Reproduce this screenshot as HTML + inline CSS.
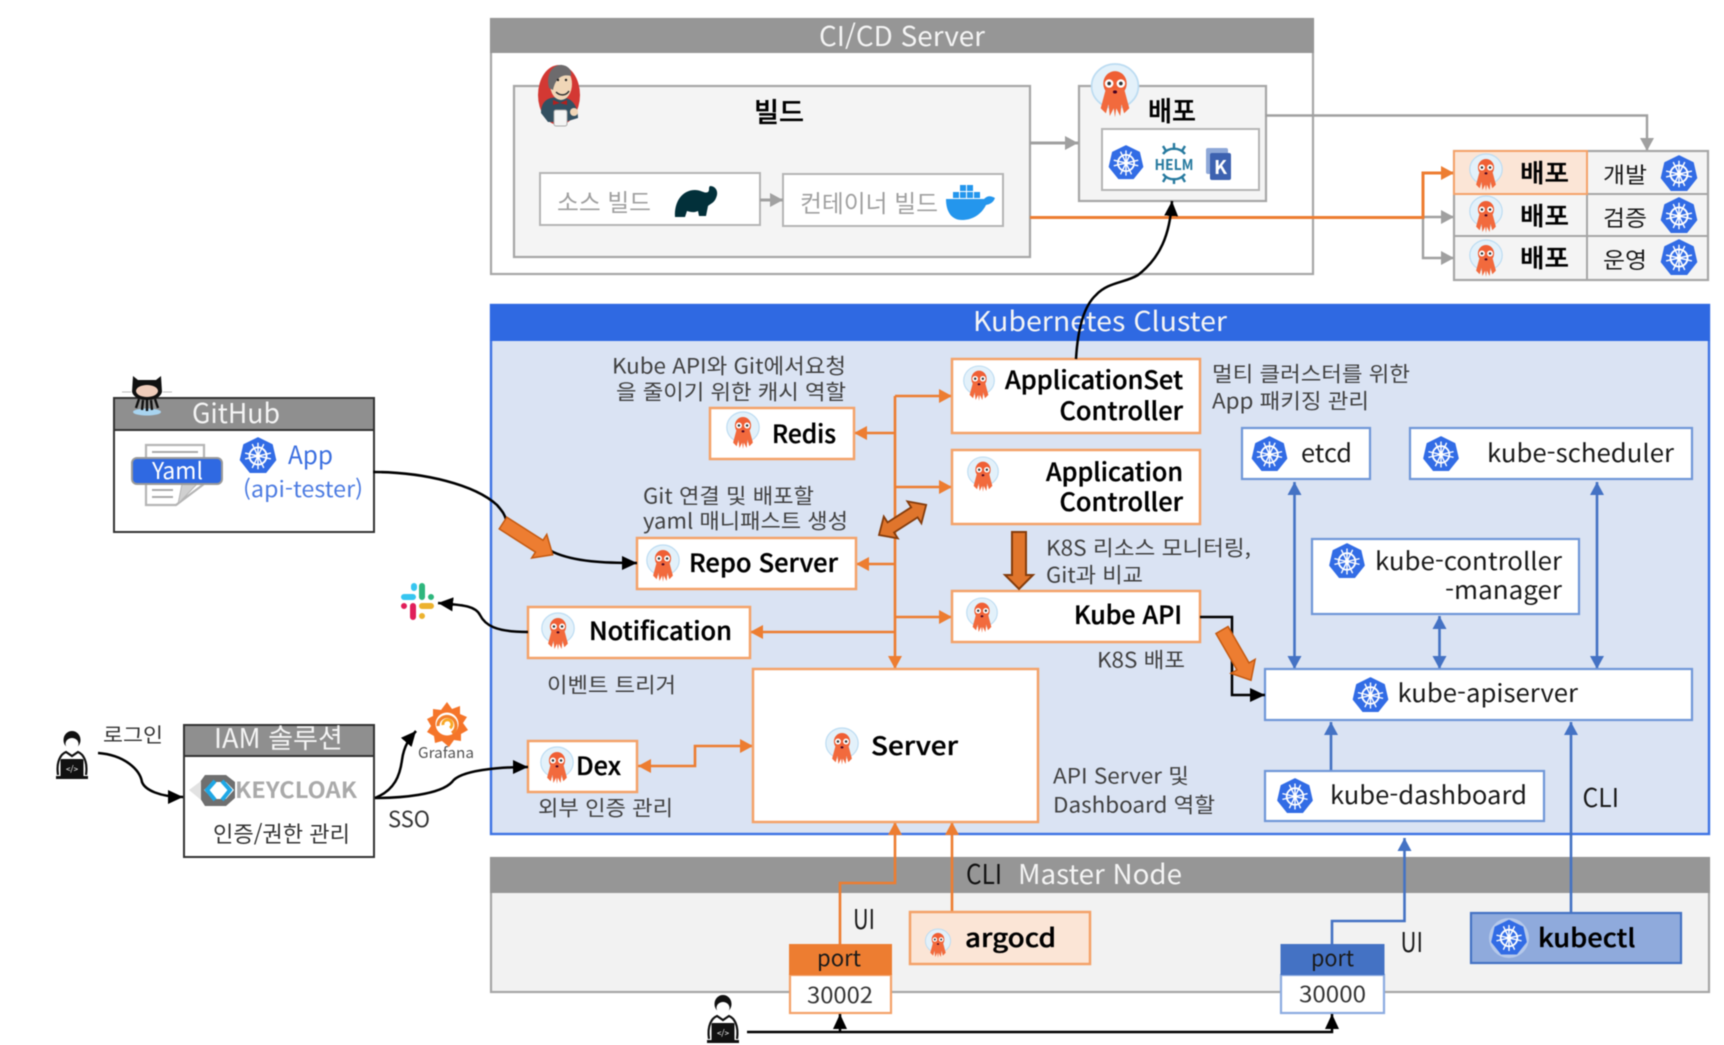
<!DOCTYPE html>
<html lang="ko"><head><meta charset="utf-8"><title>ArgoCD Architecture</title>
<style>
html,body{margin:0;padding:0;background:#fff;width:1724px;height:1045px;overflow:hidden}
svg{display:block;filter:blur(.5px)}
text{font-family:"Noto Sans CJK KR","Liberation Sans",sans-serif}
.h{font-size:27px;fill:#f4f4f4;transform:translateY(1px)}
.b{font-size:25px;font-weight:500;fill:#000;transform:translateY(1px);stroke:#000;stroke-width:.35px}
.m{font-size:24.500px;fill:#1a1a1a}
.d{font-size:21px;fill:#404040;transform:translateY(.5px)}
.g{font-size:24px;fill:#a0a0a0}
.box{fill:#fff;stroke:#f4a269;stroke-width:2.5}
.bb{fill:#fff;stroke:#6f97d8;stroke-width:2.2}
.gr{fill:#f4f4f4;stroke:#a6a6a6;stroke-width:2.2}
.o{fill:none;stroke:#ed7d31;stroke-width:2.6}
.u{fill:none;stroke:#4472c4;stroke-width:2.6}
.y{fill:none;stroke:#a0a0a0;stroke-width:2.4}
.n{fill:none;stroke:#000;stroke-width:2.5}
</style></head><body>
<svg width="1724" height="1045" viewBox="0 0 1724 1045" xmlns="http://www.w3.org/2000/svg">
<defs>
<marker id="mo" markerUnits="userSpaceOnUse" markerWidth="16" markerHeight="16" refX="13" refY="7" orient="auto-start-reverse"><path d="M0,0L13,7L0,14Z" fill="#ed7d31"/></marker>
<marker id="mu" markerUnits="userSpaceOnUse" markerWidth="16" markerHeight="16" refX="13" refY="7" orient="auto-start-reverse"><path d="M0,0L13,7L0,14Z" fill="#4472c4"/></marker>
<marker id="my" markerUnits="userSpaceOnUse" markerWidth="16" markerHeight="16" refX="13" refY="7" orient="auto-start-reverse"><path d="M0,0L13,7L0,14Z" fill="#a0a0a0"/></marker>
<marker id="mn" markerUnits="userSpaceOnUse" markerWidth="18" markerHeight="16" refX="15" refY="7" orient="auto-start-reverse"><path d="M0,0L15,7L0,14Z" fill="#000"/></marker>
<symbol id="k8s" viewBox="-20 -20 40 40" overflow="visible">
<path d="M0,-19 L14.8,-11.8 L18.5,4.2 L8.2,17.1 L-8.2,17.1 L-18.5,4.2 L-14.8,-11.8Z" fill="#326ce5" stroke="#326ce5" stroke-width="1.5" stroke-linejoin="round"/>
<circle r="9" fill="none" stroke="#fff" stroke-width="2"/>
<path d="M0,-14V14M-13.6,-3.1L13.6,3.1M-13.6,3.1L13.6,-3.1M-6.1,-12.6L6.1,12.6M6.1,-12.6L-6.1,12.6" stroke="#fff" stroke-width="1.500"/>
<circle r="2.6" fill="#fff"/>
</symbol>
<symbol id="argo" viewBox="-20 -20 40 40" overflow="visible">
<ellipse cy="-3" rx="18" ry="17" fill="#e3f1fa" stroke="#bcdcf2" stroke-width="1.300"/>
<ellipse cy="-5" rx="9" ry="9.5" fill="#ef5f35"/>
<path d="M-7,-1L-11,14L-7,18L-5,11L-4,20L-1,14L0,21L1,14L4,20L5,11L7,18L11,14L7,-1Z" fill="#f26a3d"/>
<circle cx="-4.500" cy="-5" r="3.300" fill="#fff"/><circle cx="4.500" cy="-5" r="3.300" fill="#fff"/>
<circle cx="-4.500" cy="-5" r="1.400" fill="#333"/><circle cx="4.500" cy="-5" r="1.400" fill="#333"/>
<ellipse cy="1.500" rx="1.600" ry="1.200" fill="#402"/>
</symbol>
<symbol id="person" viewBox="0 0 40 50" overflow="visible">
<ellipse cx="20" cy="9" rx="8.500" ry="9" fill="#111"/>
<ellipse cx="20" cy="13" rx="6.500" ry="6" fill="#fff"/>
<path d="M6,44C4,30 9,23 14,21L20,25L26,21C31,23 36,30 34,44" fill="#fff" stroke="#111" stroke-width="2.200"/>
<rect x="8.500" y="28" width="23" height="18" rx="1" fill="#111"/>
<rect x="4" y="45" width="32" height="3" fill="#111"/>
<text x="20" y="41" text-anchor="middle" style="font-size:8px;fill:#fff">&lt;/&gt;</text>
</symbol>
</defs>

<!-- CI/CD -->
<rect x="491" y="19" width="822" height="255" fill="#fff" stroke="#a6a6a6" stroke-width="2.2"/>
<rect x="490" y="18" width="824" height="35" fill="#969696"/>
<text class="h" x="819" y="45" textLength="166" lengthAdjust="spacingAndGlyphs">CI/CD Server</text>
<rect class="gr" x="514" y="86" width="516" height="171"/>
<rect class="gr" x="1079" y="86" width="187" height="115"/>
<rect x="540" y="173" width="220" height="52" fill="#fff" stroke="#b5b5b5" stroke-width="2"/>
<rect x="783" y="174" width="220" height="52" fill="#fff" stroke="#b5b5b5" stroke-width="2"/>
<rect x="1102" y="129" width="157" height="61" fill="#fff" stroke="#b5b5b5" stroke-width="2"/>
<text class="b" x="754" y="121" textLength="50" lengthAdjust="spacingAndGlyphs" style="font-size:27px">빌드</text>
<text class="b" x="1148" y="120" textLength="48" lengthAdjust="spacingAndGlyphs" style="font-size:27px">배포</text>
<text class="g" x="557" y="211" textLength="94" lengthAdjust="spacingAndGlyphs">소스 빌드</text>
<text class="g" x="800" y="212" textLength="138" lengthAdjust="spacingAndGlyphs">컨테이너 빌드</text>
<!-- jenkins -->
<g>
<ellipse cx="559" cy="95" rx="21" ry="30" fill="#d33833"/>
<path d="M541,113C541,100 550,96 560,98C570,96 578,104 578,118L565,122L548,122Z" fill="#335061"/>
<ellipse cx="561" cy="84" rx="11" ry="16" fill="#f0d6b7"/>
<path d="M549,88C545,72 555,64 562,65C570,66 572,72 571,76C564,74 556,76 553,90Z" fill="#6d6b6d"/>
<path d="M556,92C560,96 566,96 569,91" fill="none" stroke="#333" stroke-width="1.500"/>
<circle cx="558" cy="80" r="1.200" fill="#222"/><circle cx="566" cy="80" r="1.200" fill="#222"/>
<rect x="554" y="110" width="13" height="16" rx="2" fill="#f4f4f4" stroke="#aaa"/>
<path d="M553,100L560,103L567,100L567,105L560,103L553,105Z" fill="#b1201e"/>
<circle cx="574" cy="112" r="4" fill="#f0d6b7"/>
</g>
<!-- gradle -->
<path d="M675,217C674,202 682,190 695,190C701,190 705,194 708,192C710,190 708,188 710,186C716,186 719,192 716,198C714,203 710,204 708,206L706,216H699L698,211C694,213 690,212 687,211L685,217Z" fill="#02303a"/>
<!-- docker -->
<g fill="#2496ed">
<path d="M946,199H984C988,195 991,196 995,198C993,203 990,204 986,205C981,215 972,220 962,220C951,220 946,211 946,199Z"/>
<rect x="953" y="192" width="6" height="6"/><rect x="960" y="192" width="6" height="6"/><rect x="967" y="192" width="6" height="6"/>
<rect x="960" y="185" width="6" height="6"/><rect x="967" y="185" width="6" height="6"/><rect x="974" y="192" width="6" height="6"/>
</g>
<use href="#argo" x="1089" y="62" width="52" height="56"/>
<use href="#k8s" x="1108" y="145" width="36" height="36"/>
<!-- helm -->
<g fill="none" stroke="#277a9f" stroke-width="2.400">
<path d="M1163,154A14,14 0 0 1 1185,154M1163,174A14,14 0 0 0 1185,174"/>
<path d="M1174,143V150M1174,178V184M1163,146L1166,151M1185,146L1182,151M1163,182L1166,177M1185,182L1182,177"/>
</g>
<text x="1174" y="170" text-anchor="middle" textLength="39" lengthAdjust="spacingAndGlyphs" style="font-size:15px;font-weight:700;fill:#277a9f">HELM</text>
<!-- kustomize -->
<rect x="1206" y="148" width="22" height="26" rx="2" fill="#8ea8d8"/>
<rect x="1210" y="153" width="21" height="27" rx="2" fill="#3d62b0"/>
<text x="1220.500" y="174" text-anchor="middle" style="font-size:19px;font-weight:700;fill:#fff">K</text>

<!-- Kubernetes cluster -->
<rect x="491" y="305" width="1218" height="529" fill="#dae3f3" stroke="#3d73e3" stroke-width="2.4"/>
<rect x="490" y="304" width="1220" height="37" fill="#2f69e2"/>
<text class="h" x="973" y="330" textLength="254" lengthAdjust="spacingAndGlyphs">Kubernetes Cluster</text>

<!-- Master node -->
<rect x="491" y="858" width="1218" height="134" fill="#f2f2f2" stroke="#a6a6a6" stroke-width="2.2"/>
<rect x="490" y="857" width="1220" height="36" fill="#969696"/>
<text class="h" x="966" y="883" textLength="36" lengthAdjust="spacingAndGlyphs" style="fill:#111">CLI</text>
<text class="h" x="1018" y="883" textLength="164" lengthAdjust="spacingAndGlyphs">Master Node</text>

<!-- Orange connectors -->
<path class="o" d="M895,396V669" marker-end="url(#mo)"/>
<path class="o" d="M895,396H952" marker-end="url(#mo)"/>
<path class="o" d="M895,433H854" marker-end="url(#mo)"/>
<path class="o" d="M895,487H952" marker-end="url(#mo)"/>
<path class="o" d="M895,564H856" marker-end="url(#mo)"/>
<path class="o" d="M895,617H952" marker-end="url(#mo)"/>
<path class="o" d="M895,632H750" marker-end="url(#mo)"/>
<path class="o" d="M638,766H695V746H753" marker-start="url(#mo)" marker-end="url(#mo)"/>
<path class="o" d="M840,944V883H895V822" marker-end="url(#mo)"/>
<path class="o" d="M952,912V822" marker-end="url(#mo)"/>

<!-- Blue connectors -->
<path class="u" d="M1294.500,482V669" marker-start="url(#mu)" marker-end="url(#mu)"/>
<path class="u" d="M1439.500,616V669" marker-start="url(#mu)" marker-end="url(#mu)"/>
<path class="u" d="M1597,482V669" marker-start="url(#mu)" marker-end="url(#mu)"/>
<path class="u" d="M1331,771V722" marker-end="url(#mu)"/>
<path class="u" d="M1571,913V722" marker-end="url(#mu)"/>
<path class="u" d="M1332,944V921H1404.500V838" marker-end="url(#mu)"/>

<!-- Gray connectors -->
<path class="y" style="stroke-width:3" d="M1030,143H1078" marker-end="url(#my)"/>
<path class="y" style="stroke-width:3" d="M760,200H783" marker-end="url(#my)"/>
<path class="y" d="M1265,115.500H1647V151" marker-end="url(#my)"/>
<path class="y" d="M1423,217H1454" marker-end="url(#my)"/>
<path class="y" d="M1423,217V258H1454" marker-end="url(#my)"/>
<path class="o" style="stroke-width:3" d="M1030,217.500H1423V173H1454" marker-end="url(#mo)"/>

<!-- Argo boxes -->
<rect class="box" x="710" y="408" width="144" height="51"/>
<rect class="box" x="952" y="359" width="248" height="74"/>
<rect class="box" x="952" y="450" width="248" height="74"/>
<rect class="box" x="637" y="538" width="219" height="51"/>
<rect class="box" x="528" y="607" width="222" height="51"/>
<rect class="box" x="952" y="591" width="248" height="51"/>
<rect class="box" x="753" y="669" width="285" height="153"/>
<rect class="box" x="528" y="741" width="109" height="51"/>
<rect x="910" y="912" width="180" height="52" fill="#fbe5d6" stroke="#f4a269" stroke-width="2.5"/>

<use href="#argo" x="725" y="411" width="36" height="38"/>
<use href="#argo" x="962" y="365" width="34" height="36"/>
<use href="#argo" x="966" y="456" width="34" height="36"/>
<use href="#argo" x="645" y="544" width="36" height="38"/>
<use href="#argo" x="965" y="597" width="34" height="36"/>
<use href="#argo" x="540" y="612" width="36" height="38"/>
<use href="#argo" x="824" y="727" width="36" height="38"/>
<use href="#argo" x="539" y="746" width="36" height="38"/>
<use href="#argo" x="924" y="928" width="28" height="30"/>

<text class="b" x="772" y="442" textLength="64" lengthAdjust="spacingAndGlyphs">Redis</text>
<text class="b" x="1005" y="388" textLength="178" lengthAdjust="spacingAndGlyphs">ApplicationSet</text>
<text class="b" x="1059.500" y="419" textLength="123.500" lengthAdjust="spacingAndGlyphs">Controller</text>
<text class="b" x="1046" y="480" textLength="137" lengthAdjust="spacingAndGlyphs">Application</text>
<text class="b" x="1059.500" y="510" textLength="123.500" lengthAdjust="spacingAndGlyphs">Controller</text>
<text class="b" x="689" y="571" textLength="149" lengthAdjust="spacingAndGlyphs">Repo Server</text>
<text class="b" x="1074" y="623" textLength="108" lengthAdjust="spacingAndGlyphs">Kube API</text>
<text class="b" x="589" y="639" textLength="143" lengthAdjust="spacingAndGlyphs">Notification</text>
<text class="b" x="871" y="754" textLength="87" lengthAdjust="spacingAndGlyphs">Server</text>
<text class="b" x="576" y="774" textLength="45" lengthAdjust="spacingAndGlyphs">Dex</text>
<text class="b" x="965" y="946" textLength="91" lengthAdjust="spacingAndGlyphs">argocd</text>

<text class="d" x="612" y="373" textLength="234" lengthAdjust="spacingAndGlyphs">Kube API와 Git에서요청</text>
<text class="d" x="616" y="399" textLength="230" lengthAdjust="spacingAndGlyphs">을 줄이기 위한 캐시 역할</text>
<text class="d" x="643" y="503" textLength="171" lengthAdjust="spacingAndGlyphs">Git 연결 및 배포할</text>
<text class="d" x="643" y="528" textLength="205" lengthAdjust="spacingAndGlyphs">yaml 매니패스트 생성</text>
<text class="d" x="547" y="692" textLength="129" lengthAdjust="spacingAndGlyphs">이벤트 트리거</text>
<text class="d" x="538" y="815" textLength="135" lengthAdjust="spacingAndGlyphs">외부 인증 관리</text>
<text class="d" x="1053" y="783" textLength="136" lengthAdjust="spacingAndGlyphs">API Server 및</text>
<text class="d" x="1053" y="812" textLength="162" lengthAdjust="spacingAndGlyphs">Dashboard 역할</text>
<text class="d" x="1097" y="667" textLength="88" lengthAdjust="spacingAndGlyphs">K8S 배포</text>
<text class="d" x="1046" y="555" textLength="205" lengthAdjust="spacingAndGlyphs">K8S 리소스 모니터링,</text>
<text class="d" x="1046" y="582" textLength="97" lengthAdjust="spacingAndGlyphs">Git과 비교</text>
<text class="d" x="1212" y="381" textLength="198" lengthAdjust="spacingAndGlyphs">멀티 클러스터를 위한</text>
<text class="d" x="1212" y="408" textLength="157" lengthAdjust="spacingAndGlyphs">App 패키징 관리</text>

<!-- Blue boxes -->
<rect class="bb" x="1242" y="428" width="128" height="51"/>
<rect class="bb" x="1410" y="428" width="282" height="51"/>
<rect class="bb" x="1312" y="539" width="267" height="75"/>
<rect class="bb" x="1265" y="669" width="427" height="51"/>
<rect class="bb" x="1265" y="771" width="279" height="50"/>
<rect x="1471" y="913" width="210" height="50" fill="#8faadc" stroke="#4472c4" stroke-width="2.2"/>
<use href="#k8s" x="1251" y="436" width="37" height="37"/>
<use href="#k8s" x="1422.500" y="436" width="37" height="37"/>
<use href="#k8s" x="1328.500" y="543" width="37" height="37"/>
<use href="#k8s" x="1352" y="677" width="37" height="37"/>
<use href="#k8s" x="1276.500" y="778" width="37" height="37"/>
<circle cx="1509" cy="938" r="20" fill="#c6d6ef" opacity=".7"/>
<use href="#k8s" x="1490.500" y="919.500" width="37" height="37"/>
<text class="m" x="1301" y="462" textLength="51" lengthAdjust="spacingAndGlyphs">etcd</text>
<text class="m" x="1487" y="462" textLength="187" lengthAdjust="spacingAndGlyphs">kube-scheduler</text>
<text class="m" x="1375" y="570" textLength="187" lengthAdjust="spacingAndGlyphs">kube-controller</text>
<text class="m" x="1445" y="599" textLength="117" lengthAdjust="spacingAndGlyphs">-manager</text>
<text class="m" x="1397.500" y="702" textLength="180.500" lengthAdjust="spacingAndGlyphs">kube-apiserver</text>
<text class="m" x="1330" y="804" textLength="197" lengthAdjust="spacingAndGlyphs">kube-dashboard</text>
<text class="m" x="1582.500" y="807" textLength="36.500" lengthAdjust="spacingAndGlyphs" style="font-size:26px">CLI</text>
<text class="b" x="1538" y="946" textLength="97.500" lengthAdjust="spacingAndGlyphs">kubectl</text>
<text class="m" x="1400.500" y="952" textLength="22.500" lengthAdjust="spacingAndGlyphs" style="font-size:27px">UI</text>
<text class="m" x="853" y="929" textLength="22" lengthAdjust="spacingAndGlyphs" style="font-size:27px">UI</text>

<!-- Ports -->
<rect x="790" y="975" width="101" height="38" fill="#fff" stroke="#f4a269" stroke-width="2.200"/>
<rect x="789" y="944" width="103" height="31" fill="#ed7d31"/>
<text class="m" x="817" y="966" textLength="44" lengthAdjust="spacingAndGlyphs" style="font-size:22px">port</text>
<text class="m" x="807" y="1003" textLength="66" lengthAdjust="spacingAndGlyphs" style="font-size:22px;fill:#333">30002</text>
<rect x="1281" y="975" width="103" height="38" fill="#fff" stroke="#8cabe0" stroke-width="2.200"/>
<rect x="1280.500" y="944" width="104" height="31" fill="#4472c4"/>
<text class="m" x="1311" y="966" textLength="43" lengthAdjust="spacingAndGlyphs" style="font-size:22px">port</text>
<text class="m" x="1299" y="1002" textLength="67" lengthAdjust="spacingAndGlyphs" style="font-size:22px;fill:#333">30000</text>

<!-- Deployment table -->
<rect class="gr" x="1454" y="151" width="254" height="129"/>
<path d="M1454,194H1708M1454,236H1708M1587,151V280" stroke="#a6a6a6" stroke-width="2" fill="none"/>
<rect x="1454" y="151" width="133" height="43" fill="#fbe5d6" stroke="#f4a269" stroke-width="2"/>
<use href="#argo" x="1466" y="154" width="40" height="36"/>
<use href="#argo" x="1466" y="196" width="40" height="36"/>
<use href="#argo" x="1466" y="240" width="40" height="36"/>
<text class="b" x="1520" y="181" textLength="49" lengthAdjust="spacingAndGlyphs">배포</text>
<text class="b" x="1520" y="224" textLength="49" lengthAdjust="spacingAndGlyphs">배포</text>
<text class="b" x="1520" y="266" textLength="49" lengthAdjust="spacingAndGlyphs">배포</text>
<text class="m" x="1603" y="183" textLength="44" lengthAdjust="spacingAndGlyphs" style="font-size:22px">개발</text>
<text class="m" x="1603" y="226" textLength="44" lengthAdjust="spacingAndGlyphs" style="font-size:22px">검증</text>
<text class="m" x="1603" y="268" textLength="44" lengthAdjust="spacingAndGlyphs" style="font-size:22px">운영</text>
<use href="#k8s" x="1660" y="155" width="38" height="38"/>
<use href="#k8s" x="1660" y="197" width="38" height="38"/>
<use href="#k8s" x="1660" y="239" width="38" height="38"/>

<!-- GitHub -->
<rect x="114" y="398" width="260" height="134" fill="#fff" stroke="#333" stroke-width="2"/>
<rect x="114" y="398" width="260" height="32" fill="#8f8f8f" stroke="#333" stroke-width="2"/>
<text class="h" x="192" y="422" textLength="88" lengthAdjust="spacingAndGlyphs">GitHub</text>
<g>
<ellipse cx="147" cy="412" rx="14" ry="3.500" fill="#a8d4f0"/>
<path d="M133,376L138,380H156L161,376L162,392C160,398 154,400 147,400C140,400 134,398 132,392Z" fill="#111"/>
<ellipse cx="147" cy="391" rx="11" ry="6" fill="#f0cdbb"/>
<path d="M139,399L136,408M143,400L142,410M147,400V411M151,400L152,410M155,399L158,408" stroke="#111" stroke-width="2.400" fill="none"/>
<path d="M122,392H131M163,392H172" stroke="#bbb" stroke-width="1"/>
</g>
<path d="M146,445H204V484L176,505H146Z" fill="#fff" stroke="#b5b5b5" stroke-width="2.200"/>
<path d="M152,452H198M152,490H173M152,497H173" stroke="#aaa" stroke-width="2"/>
<path d="M178,504L197,484H182Z" fill="#d0d0d0" stroke="#b5b5b5"/>
<rect x="132" y="458" width="90" height="26" rx="5" fill="#2f69e2" stroke="#9a9a9a" stroke-width="2"/>
<text x="152" y="479" textLength="51" lengthAdjust="spacingAndGlyphs" style="font-size:23px;fill:#fff">Yaml</text>
<use href="#k8s" x="239" y="437" width="38" height="38"/>
<text x="288" y="464" textLength="45" lengthAdjust="spacingAndGlyphs" style="font-size:25px;fill:#3b6fe0">App</text>
<text x="243" y="497" textLength="120" lengthAdjust="spacingAndGlyphs" style="font-size:22px;fill:#4d7ce2">(api-tester)</text>

<!-- IAM -->
<rect x="184" y="725" width="190" height="132" fill="#fff" stroke="#333" stroke-width="2"/>
<rect x="184" y="725" width="190" height="31" fill="#8f8f8f" stroke="#333" stroke-width="2"/>
<text class="h" x="214" y="747" textLength="129" lengthAdjust="spacingAndGlyphs">IAM 솔루션</text>
<path d="M205,775H226L235,782V798L226,806H205L200,798V782Z" fill="#6f6f6f"/>
<path d="M170,0" fill="none"/>
<path d="M213,782L204,790L213,799H226L234,790L226,782Z" fill="#fff"/>
<path d="M215,781L207,790L215,800M222,781L230,790L222,800" fill="none" stroke="#1fa7e5" stroke-width="4"/>
<path d="M201,781L189,790L201,800Z" fill="#e2e2e2"/>
<text x="235" y="798" textLength="122" lengthAdjust="spacingAndGlyphs" style="font-size:22px;font-weight:700;fill:#aaaaaa">KEYCLOAK</text>
<text class="m" x="213" y="842" textLength="137" lengthAdjust="spacingAndGlyphs" style="font-size:22px;fill:#333">인증/권한 관리</text>
<text class="m" x="103" y="742" textLength="60" lengthAdjust="spacingAndGlyphs" style="font-size:20px;fill:#333">로그인</text>
<text class="m" x="388" y="827" textLength="42" lengthAdjust="spacingAndGlyphs" style="font-size:22px;fill:#333">SSO</text>
<!-- grafana -->
<g transform="translate(447,725)">
<path d="M0,-23L5,-16L13,-19L13,-11L20,-8L16,-2L21,5L14,9L14,16L7,15L2,22L-5,16L-12,18L-13,11L-20,7L-16,1L-20,-6L-14,-9L-14,-16L-6,-15Z" fill="#f5752a"/>
<circle cy="-1" r="11.500" fill="#fff"/>
<path d="M-9,1A9,9 0 1 1 5,8" fill="none" stroke="#f3812a" stroke-width="3.200"/>
<path d="M-4,0A4.500,4.500 0 1 1 3,3" fill="none" stroke="#f9a825" stroke-width="3"/>
</g>
<text x="418" y="758" textLength="56" lengthAdjust="spacingAndGlyphs" style="font-size:15px;fill:#555">Grafana</text>
<!-- slack -->
<g stroke-linecap="round" stroke-width="6" fill="none">
<path d="M404,597H413M414,586V588" stroke="#36c5f0"/>
<path d="M422,586V597M431,597H431" stroke="#2eb67d"/>
<path d="M404,606V606M413,606V617" stroke="#e01e5a"/>
<path d="M422,606H431M422,616V616" stroke="#ecb22e"/>
</g>
<use href="#person" x="52" y="731" width="40" height="50"/>
<use href="#person" x="703" y="995" width="40" height="50"/>

<!-- Black connectors -->
<path class="n" d="M373,472C425,472 475,485 497,505C503,512 505,515 506,520L553,552C575,562 605,563 637,563" marker-end="url(#mn)"/>
<path class="n" d="M528,632C495,632 485,625 480,615C475,605 460,605 438,603" marker-end="url(#mn)"/>
<path class="n" d="M98,753C125,755 140,770 142,782C145,790 160,797 183,797" marker-end="url(#mn)"/>
<path class="n" d="M375,798C395,790 400,775 402,760C404,745 410,738 416,731" marker-end="url(#mn)"/>
<path class="n" d="M375,798C400,798 440,795 452,782C460,770 500,767 528,767" marker-end="url(#mn)"/>
<path class="n" d="M1076,359C1078,325 1085,305 1096,295C1108,282 1125,283 1138,275C1160,258 1170,235 1172,201" marker-end="url(#mn)"/>
<path class="n" d="M1200,617H1232V695H1265" marker-end="url(#mn)"/>
<path class="n" d="M747,1032H1332V1014" marker-end="url(#mn)"/>
<path class="n" d="M840,1032V1014" marker-end="url(#mn)"/>

<!-- Big arrows -->
<path d="M1012,532H1026V575H1033L1019,589L1005,575H1012Z" fill="#e0752c" stroke="#843c0c" stroke-width="2"/>
<g transform="translate(503,523) rotate(32.600)"><path d="M0,-7H43V-14L59,0L43,14V7H0Z" fill="#ed7d31" stroke="#c55a11" stroke-width="1.500"/></g>
<g transform="translate(1222,630) rotate(60)"><path d="M0,-7H42V-14L58,0L42,14V7H0Z" fill="#ed7d31" stroke="#c55a11" stroke-width="1.500"/></g>
<g transform="translate(879,535) rotate(-32.600)"><path d="M0,0L14,-13V-6H42V-13L56,0L42,13V6H14V13Z" fill="#e0752c" stroke="#843c0c" stroke-width="1.800"/></g>
</svg>
</body></html>
